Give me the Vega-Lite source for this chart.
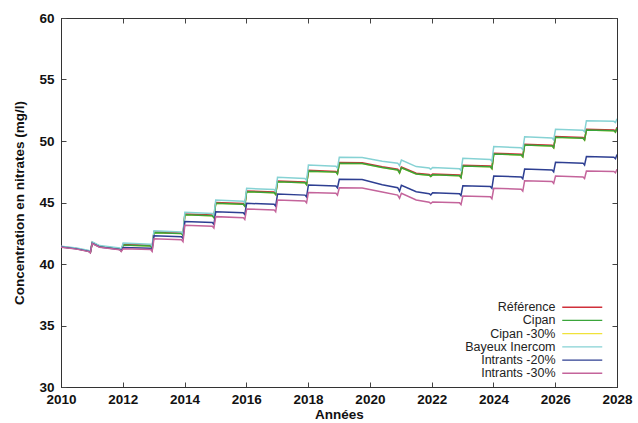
{
  "$schema": "https://vega.github.io/schema/vega-lite/v6.json",
  "width": 556,
  "height": 369,
  "autosize": "none",
  "padding": {"left": 61, "top": 18, "right": 21, "bottom": 36},
  "background": "white",
  "config": {
    "view": {"stroke": "#333", "strokeWidth": 1},
    "font": "Liberation Sans",
    "axis": {
      "grid": false,
      "domainColor": "#333",
      "tickColor": "#444",
      "tickSize": -5,
      "labelFont": "Liberation Sans",
      "labelFontWeight": "bold",
      "labelFontSize": 13.5,
      "labelColor": "#111",
      "titleFont": "Liberation Sans",
      "titleFontWeight": "bold",
      "titleFontSize": 13.5,
      "titleColor": "#111"
    },
    "legend": {
      "orient": "none",
      "legendX": 515,
      "legendY": 283,
      "symbolType": "M-4,0H4",
      "symbolSize": 100,
      "symbolStrokeWidth": 1.3,
      "labelAlign": "right",
      "labelOffset": -33,
      "rowPadding": 0.2,
      "padding": 0,
      "labelFont": "Liberation Sans",
      "labelFontSize": 12.5,
      "labelColor": "#222"
    }
  },
  "data": {
    "values": [
      {"s":"Cipan -30%","t":2010.0,"v":41.4},{"s":"Cipan -30%","t":2010.5,"v":41.25},{"s":"Cipan -30%","t":2010.9,"v":41.05},{"s":"Cipan -30%","t":2010.95,"v":40.95},
      {"s":"Cipan -30%","t":2011.01,"v":41.72},{"s":"Cipan -30%","t":2011.25,"v":41.42},{"s":"Cipan -30%","t":2011.9,"v":41.22},{"s":"Cipan -30%","t":2011.95,"v":41.08},
      {"s":"Cipan -30%","t":2012.01,"v":41.55},{"s":"Cipan -30%","t":2012.9,"v":41.47},{"s":"Cipan -30%","t":2012.95,"v":41.32},
      {"s":"Cipan -30%","t":2013.01,"v":42.55},{"s":"Cipan -30%","t":2013.9,"v":42.47},{"s":"Cipan -30%","t":2013.95,"v":42.32},
      {"s":"Cipan -30%","t":2014.01,"v":44.0},{"s":"Cipan -30%","t":2014.9,"v":43.92},{"s":"Cipan -30%","t":2014.95,"v":43.77},
      {"s":"Cipan -30%","t":2015.01,"v":44.93},{"s":"Cipan -30%","t":2015.9,"v":44.85},{"s":"Cipan -30%","t":2015.95,"v":44.7},
      {"s":"Cipan -30%","t":2016.01,"v":45.88},{"s":"Cipan -30%","t":2016.9,"v":45.8},{"s":"Cipan -30%","t":2016.95,"v":45.65},
      {"s":"Cipan -30%","t":2017.01,"v":46.69},{"s":"Cipan -30%","t":2017.9,"v":46.6},{"s":"Cipan -30%","t":2017.95,"v":46.45},
      {"s":"Cipan -30%","t":2018.01,"v":47.55},{"s":"Cipan -30%","t":2018.9,"v":47.47},{"s":"Cipan -30%","t":2018.95,"v":47.32},
      {"s":"Cipan -30%","t":2019.01,"v":48.19},{"s":"Cipan -30%","t":2019.75,"v":48.17},{"s":"Cipan -30%","t":2020.4,"v":47.85},{"s":"Cipan -30%","t":2020.9,"v":47.65},{"s":"Cipan -30%","t":2020.96,"v":47.4},{"s":"Cipan -30%","t":2021.02,"v":47.83},{"s":"Cipan -30%","t":2021.5,"v":47.32},{"s":"Cipan -30%","t":2021.92,"v":47.22},{"s":"Cipan -30%","t":2021.97,"v":47.12},{"s":"Cipan -30%","t":2022.03,"v":47.25},{"s":"Cipan -30%","t":2022.9,"v":47.17},{"s":"Cipan -30%","t":2022.95,"v":47.02},
      {"s":"Cipan -30%","t":2023.01,"v":47.97},{"s":"Cipan -30%","t":2023.9,"v":47.9},{"s":"Cipan -30%","t":2023.95,"v":47.75},
      {"s":"Cipan -30%","t":2024.01,"v":48.94},{"s":"Cipan -30%","t":2024.9,"v":48.87},{"s":"Cipan -30%","t":2024.95,"v":48.72},
      {"s":"Cipan -30%","t":2025.01,"v":49.67},{"s":"Cipan -30%","t":2025.9,"v":49.6},{"s":"Cipan -30%","t":2025.95,"v":49.45},
      {"s":"Cipan -30%","t":2026.01,"v":50.3},{"s":"Cipan -30%","t":2026.9,"v":50.23},{"s":"Cipan -30%","t":2026.95,"v":50.08},
      {"s":"Cipan -30%","t":2027.01,"v":50.89},{"s":"Cipan -30%","t":2027.9,"v":50.84},{"s":"Cipan -30%","t":2027.95,"v":50.72},{"s":"Cipan -30%","t":2028.0,"v":51.05},

      {"s":"Référence","t":2010.0,"v":41.42},{"s":"Référence","t":2010.5,"v":41.27},{"s":"Référence","t":2010.9,"v":41.07},{"s":"Référence","t":2010.95,"v":40.97},
      {"s":"Référence","t":2011.01,"v":41.75},{"s":"Référence","t":2011.25,"v":41.45},{"s":"Référence","t":2011.9,"v":41.25},{"s":"Référence","t":2011.95,"v":41.11},
      {"s":"Référence","t":2012.01,"v":41.6},{"s":"Référence","t":2012.9,"v":41.52},{"s":"Référence","t":2012.95,"v":41.37},
      {"s":"Référence","t":2013.01,"v":42.61},{"s":"Référence","t":2013.9,"v":42.53},{"s":"Référence","t":2013.95,"v":42.38},
      {"s":"Référence","t":2014.01,"v":44.06},{"s":"Référence","t":2014.9,"v":43.98},{"s":"Référence","t":2014.95,"v":43.83},
      {"s":"Référence","t":2015.01,"v":44.99},{"s":"Référence","t":2015.9,"v":44.91},{"s":"Référence","t":2015.95,"v":44.76},
      {"s":"Référence","t":2016.01,"v":45.94},{"s":"Référence","t":2016.9,"v":45.86},{"s":"Référence","t":2016.95,"v":45.71},
      {"s":"Référence","t":2017.01,"v":46.75},{"s":"Référence","t":2017.9,"v":46.66},{"s":"Référence","t":2017.95,"v":46.51},
      {"s":"Référence","t":2018.01,"v":47.61},{"s":"Référence","t":2018.9,"v":47.53},{"s":"Référence","t":2018.95,"v":47.38},
      {"s":"Référence","t":2019.01,"v":48.25},{"s":"Référence","t":2019.75,"v":48.23},{"s":"Référence","t":2020.4,"v":47.91},{"s":"Référence","t":2020.9,"v":47.71},{"s":"Référence","t":2020.96,"v":47.46},{"s":"Référence","t":2021.02,"v":47.89},{"s":"Référence","t":2021.5,"v":47.38},{"s":"Référence","t":2021.92,"v":47.28},{"s":"Référence","t":2021.97,"v":47.18},{"s":"Référence","t":2022.03,"v":47.31},{"s":"Référence","t":2022.9,"v":47.23},{"s":"Référence","t":2022.95,"v":47.08},
      {"s":"Référence","t":2023.01,"v":48.03},{"s":"Référence","t":2023.9,"v":47.96},{"s":"Référence","t":2023.95,"v":47.81},
      {"s":"Référence","t":2024.01,"v":49.0},{"s":"Référence","t":2024.9,"v":48.93},{"s":"Référence","t":2024.95,"v":48.78},
      {"s":"Référence","t":2025.01,"v":49.73},{"s":"Référence","t":2025.9,"v":49.66},{"s":"Référence","t":2025.95,"v":49.51},
      {"s":"Référence","t":2026.01,"v":50.36},{"s":"Référence","t":2026.9,"v":50.29},{"s":"Référence","t":2026.95,"v":50.14},
      {"s":"Référence","t":2027.01,"v":50.95},{"s":"Référence","t":2027.9,"v":50.9},{"s":"Référence","t":2027.95,"v":50.78},{"s":"Référence","t":2028.0,"v":51.11},

      {"s":"Cipan","t":2010.0,"v":41.4},{"s":"Cipan","t":2010.5,"v":41.25},{"s":"Cipan","t":2010.9,"v":41.05},{"s":"Cipan","t":2010.95,"v":40.95},
      {"s":"Cipan","t":2011.01,"v":41.72},{"s":"Cipan","t":2011.25,"v":41.42},{"s":"Cipan","t":2011.9,"v":41.22},{"s":"Cipan","t":2011.95,"v":41.08},
      {"s":"Cipan","t":2012.01,"v":41.55},{"s":"Cipan","t":2012.9,"v":41.47},{"s":"Cipan","t":2012.95,"v":41.32},
      {"s":"Cipan","t":2013.01,"v":42.55},{"s":"Cipan","t":2013.9,"v":42.47},{"s":"Cipan","t":2013.95,"v":42.32},
      {"s":"Cipan","t":2014.01,"v":44.0},{"s":"Cipan","t":2014.9,"v":43.92},{"s":"Cipan","t":2014.95,"v":43.77},
      {"s":"Cipan","t":2015.01,"v":44.93},{"s":"Cipan","t":2015.9,"v":44.85},{"s":"Cipan","t":2015.95,"v":44.7},
      {"s":"Cipan","t":2016.01,"v":45.88},{"s":"Cipan","t":2016.9,"v":45.8},{"s":"Cipan","t":2016.95,"v":45.65},
      {"s":"Cipan","t":2017.01,"v":46.69},{"s":"Cipan","t":2017.9,"v":46.6},{"s":"Cipan","t":2017.95,"v":46.45},
      {"s":"Cipan","t":2018.01,"v":47.55},{"s":"Cipan","t":2018.9,"v":47.47},{"s":"Cipan","t":2018.95,"v":47.32},
      {"s":"Cipan","t":2019.01,"v":48.19},{"s":"Cipan","t":2019.75,"v":48.17},{"s":"Cipan","t":2020.4,"v":47.85},{"s":"Cipan","t":2020.9,"v":47.65},{"s":"Cipan","t":2020.96,"v":47.4},{"s":"Cipan","t":2021.02,"v":47.83},{"s":"Cipan","t":2021.5,"v":47.32},{"s":"Cipan","t":2021.92,"v":47.22},{"s":"Cipan","t":2021.97,"v":47.12},{"s":"Cipan","t":2022.03,"v":47.25},{"s":"Cipan","t":2022.9,"v":47.17},{"s":"Cipan","t":2022.95,"v":47.02},
      {"s":"Cipan","t":2023.01,"v":47.97},{"s":"Cipan","t":2023.9,"v":47.9},{"s":"Cipan","t":2023.95,"v":47.75},
      {"s":"Cipan","t":2024.01,"v":48.94},{"s":"Cipan","t":2024.9,"v":48.87},{"s":"Cipan","t":2024.95,"v":48.72},
      {"s":"Cipan","t":2025.01,"v":49.67},{"s":"Cipan","t":2025.9,"v":49.6},{"s":"Cipan","t":2025.95,"v":49.45},
      {"s":"Cipan","t":2026.01,"v":50.3},{"s":"Cipan","t":2026.9,"v":50.23},{"s":"Cipan","t":2026.95,"v":50.08},
      {"s":"Cipan","t":2027.01,"v":50.89},{"s":"Cipan","t":2027.9,"v":50.84},{"s":"Cipan","t":2027.95,"v":50.72},{"s":"Cipan","t":2028.0,"v":51.05},

      {"s":"Bayeux Inercom","t":2010.0,"v":41.45},{"s":"Bayeux Inercom","t":2010.5,"v":41.3},{"s":"Bayeux Inercom","t":2010.9,"v":41.1},{"s":"Bayeux Inercom","t":2010.95,"v":41.0},
      {"s":"Bayeux Inercom","t":2011.01,"v":41.8},{"s":"Bayeux Inercom","t":2011.25,"v":41.5},{"s":"Bayeux Inercom","t":2011.9,"v":41.3},{"s":"Bayeux Inercom","t":2011.95,"v":41.15},
      {"s":"Bayeux Inercom","t":2012.01,"v":41.7},{"s":"Bayeux Inercom","t":2012.9,"v":41.6},{"s":"Bayeux Inercom","t":2012.95,"v":41.45},
      {"s":"Bayeux Inercom","t":2013.01,"v":42.7},{"s":"Bayeux Inercom","t":2013.9,"v":42.6},{"s":"Bayeux Inercom","t":2013.95,"v":42.45},
      {"s":"Bayeux Inercom","t":2014.01,"v":44.2},{"s":"Bayeux Inercom","t":2014.9,"v":44.1},{"s":"Bayeux Inercom","t":2014.95,"v":43.95},
      {"s":"Bayeux Inercom","t":2015.01,"v":45.2},{"s":"Bayeux Inercom","t":2015.9,"v":45.1},{"s":"Bayeux Inercom","t":2015.95,"v":44.95},
      {"s":"Bayeux Inercom","t":2016.01,"v":46.15},{"s":"Bayeux Inercom","t":2016.9,"v":46.05},{"s":"Bayeux Inercom","t":2016.95,"v":45.9},
      {"s":"Bayeux Inercom","t":2017.01,"v":47.05},{"s":"Bayeux Inercom","t":2017.9,"v":46.95},{"s":"Bayeux Inercom","t":2017.95,"v":46.8},
      {"s":"Bayeux Inercom","t":2018.01,"v":48.05},{"s":"Bayeux Inercom","t":2018.9,"v":47.95},{"s":"Bayeux Inercom","t":2018.95,"v":47.8},
      {"s":"Bayeux Inercom","t":2019.01,"v":48.67},{"s":"Bayeux Inercom","t":2019.75,"v":48.65},{"s":"Bayeux Inercom","t":2020.4,"v":48.35},{"s":"Bayeux Inercom","t":2020.9,"v":48.2},{"s":"Bayeux Inercom","t":2020.96,"v":48.0},{"s":"Bayeux Inercom","t":2021.02,"v":48.45},{"s":"Bayeux Inercom","t":2021.5,"v":47.92},{"s":"Bayeux Inercom","t":2021.92,"v":47.8},{"s":"Bayeux Inercom","t":2021.97,"v":47.7},{"s":"Bayeux Inercom","t":2022.03,"v":47.85},{"s":"Bayeux Inercom","t":2022.9,"v":47.75},{"s":"Bayeux Inercom","t":2022.95,"v":47.6},
      {"s":"Bayeux Inercom","t":2023.01,"v":48.6},{"s":"Bayeux Inercom","t":2023.9,"v":48.5},{"s":"Bayeux Inercom","t":2023.95,"v":48.35},
      {"s":"Bayeux Inercom","t":2024.01,"v":49.55},{"s":"Bayeux Inercom","t":2024.9,"v":49.45},{"s":"Bayeux Inercom","t":2024.95,"v":49.3},
      {"s":"Bayeux Inercom","t":2025.01,"v":50.35},{"s":"Bayeux Inercom","t":2025.9,"v":50.25},{"s":"Bayeux Inercom","t":2025.95,"v":50.1},
      {"s":"Bayeux Inercom","t":2026.01,"v":50.95},{"s":"Bayeux Inercom","t":2026.9,"v":50.88},{"s":"Bayeux Inercom","t":2026.95,"v":50.75},
      {"s":"Bayeux Inercom","t":2027.01,"v":51.65},{"s":"Bayeux Inercom","t":2027.9,"v":51.6},{"s":"Bayeux Inercom","t":2027.95,"v":51.5},{"s":"Bayeux Inercom","t":2028.0,"v":51.8},

      {"s":"Intrants -20%","t":2010.0,"v":41.38},{"s":"Intrants -20%","t":2010.5,"v":41.23},{"s":"Intrants -20%","t":2010.9,"v":41.03},{"s":"Intrants -20%","t":2010.95,"v":40.93},
      {"s":"Intrants -20%","t":2011.01,"v":41.68},{"s":"Intrants -20%","t":2011.25,"v":41.38},{"s":"Intrants -20%","t":2011.9,"v":41.18},{"s":"Intrants -20%","t":2011.95,"v":41.05},
      {"s":"Intrants -20%","t":2012.01,"v":41.35},{"s":"Intrants -20%","t":2012.9,"v":41.28},{"s":"Intrants -20%","t":2012.95,"v":41.13},
      {"s":"Intrants -20%","t":2013.01,"v":42.3},{"s":"Intrants -20%","t":2013.9,"v":42.22},{"s":"Intrants -20%","t":2013.95,"v":42.07},
      {"s":"Intrants -20%","t":2014.01,"v":43.45},{"s":"Intrants -20%","t":2014.9,"v":43.37},{"s":"Intrants -20%","t":2014.95,"v":43.22},
      {"s":"Intrants -20%","t":2015.01,"v":44.25},{"s":"Intrants -20%","t":2015.9,"v":44.17},{"s":"Intrants -20%","t":2015.95,"v":44.02},
      {"s":"Intrants -20%","t":2016.01,"v":44.93},{"s":"Intrants -20%","t":2016.9,"v":44.85},{"s":"Intrants -20%","t":2016.95,"v":44.7},
      {"s":"Intrants -20%","t":2017.01,"v":45.69},{"s":"Intrants -20%","t":2017.9,"v":45.6},{"s":"Intrants -20%","t":2017.95,"v":45.45},
      {"s":"Intrants -20%","t":2018.01,"v":46.43},{"s":"Intrants -20%","t":2018.9,"v":46.35},{"s":"Intrants -20%","t":2018.95,"v":46.2},
      {"s":"Intrants -20%","t":2019.01,"v":46.89},{"s":"Intrants -20%","t":2019.75,"v":46.87},{"s":"Intrants -20%","t":2020.4,"v":46.45},{"s":"Intrants -20%","t":2020.9,"v":46.2},{"s":"Intrants -20%","t":2020.96,"v":45.93},{"s":"Intrants -20%","t":2021.02,"v":46.4},{"s":"Intrants -20%","t":2021.5,"v":45.88},{"s":"Intrants -20%","t":2021.92,"v":45.72},{"s":"Intrants -20%","t":2021.97,"v":45.62},{"s":"Intrants -20%","t":2022.03,"v":45.8},{"s":"Intrants -20%","t":2022.9,"v":45.72},{"s":"Intrants -20%","t":2022.95,"v":45.57},
      {"s":"Intrants -20%","t":2023.01,"v":46.37},{"s":"Intrants -20%","t":2023.9,"v":46.3},{"s":"Intrants -20%","t":2023.95,"v":46.15},
      {"s":"Intrants -20%","t":2024.01,"v":47.15},{"s":"Intrants -20%","t":2024.9,"v":47.08},{"s":"Intrants -20%","t":2024.95,"v":46.93},
      {"s":"Intrants -20%","t":2025.01,"v":47.72},{"s":"Intrants -20%","t":2025.9,"v":47.65},{"s":"Intrants -20%","t":2025.95,"v":47.5},
      {"s":"Intrants -20%","t":2026.01,"v":48.27},{"s":"Intrants -20%","t":2026.9,"v":48.2},{"s":"Intrants -20%","t":2026.95,"v":48.05},
      {"s":"Intrants -20%","t":2027.01,"v":48.73},{"s":"Intrants -20%","t":2027.9,"v":48.68},{"s":"Intrants -20%","t":2027.95,"v":48.56},{"s":"Intrants -20%","t":2028.0,"v":48.9},

      {"s":"Intrants -30%","t":2010.0,"v":41.36},{"s":"Intrants -30%","t":2010.5,"v":41.21},{"s":"Intrants -30%","t":2010.9,"v":41.01},{"s":"Intrants -30%","t":2010.95,"v":40.91},
      {"s":"Intrants -30%","t":2011.01,"v":41.66},{"s":"Intrants -30%","t":2011.25,"v":41.36},{"s":"Intrants -30%","t":2011.9,"v":41.16},{"s":"Intrants -30%","t":2011.95,"v":41.02},
      {"s":"Intrants -30%","t":2012.01,"v":41.24},{"s":"Intrants -30%","t":2012.9,"v":41.17},{"s":"Intrants -30%","t":2012.95,"v":41.02},
      {"s":"Intrants -30%","t":2013.01,"v":42.05},{"s":"Intrants -30%","t":2013.9,"v":41.97},{"s":"Intrants -30%","t":2013.95,"v":41.82},
      {"s":"Intrants -30%","t":2014.01,"v":43.15},{"s":"Intrants -30%","t":2014.9,"v":43.07},{"s":"Intrants -30%","t":2014.95,"v":42.92},
      {"s":"Intrants -30%","t":2015.01,"v":43.85},{"s":"Intrants -30%","t":2015.9,"v":43.77},{"s":"Intrants -30%","t":2015.95,"v":43.62},
      {"s":"Intrants -30%","t":2016.01,"v":44.47},{"s":"Intrants -30%","t":2016.9,"v":44.4},{"s":"Intrants -30%","t":2016.95,"v":44.25},
      {"s":"Intrants -30%","t":2017.01,"v":45.2},{"s":"Intrants -30%","t":2017.9,"v":45.12},{"s":"Intrants -30%","t":2017.95,"v":44.97},
      {"s":"Intrants -30%","t":2018.01,"v":45.82},{"s":"Intrants -30%","t":2018.9,"v":45.75},{"s":"Intrants -30%","t":2018.95,"v":45.6},
      {"s":"Intrants -30%","t":2019.01,"v":46.2},{"s":"Intrants -30%","t":2019.75,"v":46.18},{"s":"Intrants -30%","t":2020.4,"v":45.85},{"s":"Intrants -30%","t":2020.9,"v":45.6},{"s":"Intrants -30%","t":2020.96,"v":45.34},{"s":"Intrants -30%","t":2021.02,"v":45.75},{"s":"Intrants -30%","t":2021.5,"v":45.2},{"s":"Intrants -30%","t":2021.92,"v":45.02},{"s":"Intrants -30%","t":2021.97,"v":44.92},{"s":"Intrants -30%","t":2022.03,"v":45.05},{"s":"Intrants -30%","t":2022.9,"v":44.98},{"s":"Intrants -30%","t":2022.95,"v":44.83},
      {"s":"Intrants -30%","t":2023.01,"v":45.53},{"s":"Intrants -30%","t":2023.9,"v":45.46},{"s":"Intrants -30%","t":2023.95,"v":45.31},
      {"s":"Intrants -30%","t":2024.01,"v":46.15},{"s":"Intrants -30%","t":2024.9,"v":46.08},{"s":"Intrants -30%","t":2024.95,"v":45.93},
      {"s":"Intrants -30%","t":2025.01,"v":46.77},{"s":"Intrants -30%","t":2025.9,"v":46.7},{"s":"Intrants -30%","t":2025.95,"v":46.55},
      {"s":"Intrants -30%","t":2026.01,"v":47.15},{"s":"Intrants -30%","t":2026.9,"v":47.08},{"s":"Intrants -30%","t":2026.95,"v":46.95},
      {"s":"Intrants -30%","t":2027.01,"v":47.56},{"s":"Intrants -30%","t":2027.9,"v":47.52},{"s":"Intrants -30%","t":2027.95,"v":47.42},{"s":"Intrants -30%","t":2028.0,"v":47.7}
    ]
  },
  "layer": [
    {
      "mark": {"type": "line", "strokeWidth": 1.5, "clip": true},
      "encoding": {
        "x": {
          "field": "t", "type": "quantitative",
          "scale": {"domain": [2010, 2028], "nice": false, "zero": false},
          "axis": {"title": "Années", "values": [2010, 2012, 2014, 2016, 2018, 2020, 2022, 2024, 2026, 2028], "format": "d", "labelPadding": 10, "titlePadding": 2, "labelFlush": false}
        },
        "y": {
          "field": "v", "type": "quantitative",
          "scale": {"domain": [30, 60], "nice": false, "zero": false},
          "axis": {"title": "Concentration en nitrates (mg/l)", "values": [30, 35, 40, 45, 50, 55, 60], "labelPadding": 12, "titlePadding": 12}
        },
        "color": {
          "field": "s", "type": "nominal",
          "scale": {
            "domain": ["Référence", "Cipan", "Cipan -30%", "Bayeux Inercom", "Intrants -20%", "Intrants -30%"],
            "range": ["#d0303a", "#3aa53a", "#f0e23a", "#86d2d4", "#2e3f92", "#c4649b"]
          },
          "legend": {"title": null}
        }
      }
    },
    {
      "mark": {"type": "line", "opacity": 0},
      "encoding": {
        "x": {"field": "t", "type": "quantitative", "axis": {"orient": "top", "title": null, "labels": false, "values": [2010, 2012, 2014, 2016, 2018, 2020, 2022, 2024, 2026, 2028]}},
        "y": {"field": "v", "type": "quantitative", "axis": {"orient": "right", "title": null, "labels": false, "values": [30, 35, 40, 45, 50, 55, 60]}},
        "detail": {"field": "s"}
      }
    }
  ],
  "resolve": {"axis": {"x": "independent", "y": "independent"}}
}
